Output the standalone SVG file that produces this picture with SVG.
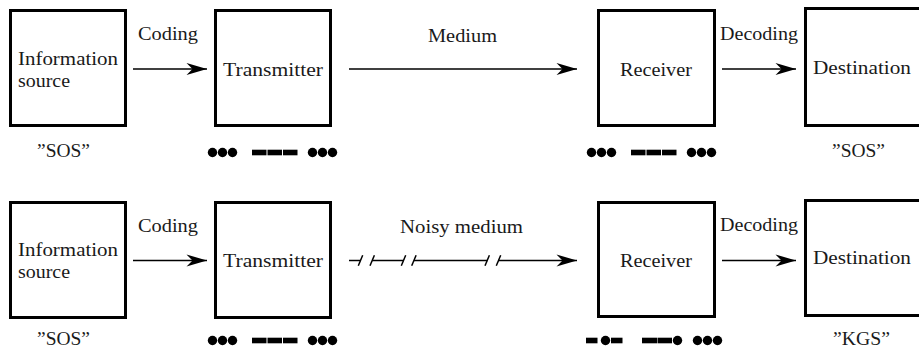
<svg xmlns="http://www.w3.org/2000/svg" width="919" height="353" viewBox="0 0 919 353">
<style>
.box{fill:#fff;stroke:#000;stroke-width:3}
.t{font-family:"Liberation Serif","DejaVu Serif",serif;font-size:19px;fill:#1a1a1a}
.ln{stroke:#000;stroke-width:1.5;fill:none}
.m{fill:#000}
</style>
<defs>
<marker id="ah" markerUnits="userSpaceOnUse" markerWidth="24" markerHeight="16" refX="21" refY="8" orient="auto" viewBox="0 0 24 16">
<path d="M21,8 L0.5,2 L6.5,8 L0.5,14 Z" fill="#000"/>
</marker>
<g id="dots3"><circle cx="0" cy="0" r="4.7"/><circle cx="10" cy="0" r="4.7"/><circle cx="20" cy="0" r="4.7"/></g>
<g id="sos"><use href="#dots3"/><rect x="39.5" y="-2.8" width="14.5" height="5.6"/><rect x="55" y="-2.8" width="14.5" height="5.6"/><rect x="70.5" y="-2.8" width="14.5" height="5.6"/><use href="#dots3" x="100"/></g>
</defs>

<!-- Top row -->
<g id="src1"><rect class="box" x="10.5" y="10.5" width="115" height="115"/>
<text class="t" x="18" y="65" textLength="100" lengthAdjust="spacingAndGlyphs">Information</text>
<text class="t" x="18" y="87" textLength="52" lengthAdjust="spacingAndGlyphs">source</text></g>
<g id="tx1"><rect class="box" x="215.5" y="10.5" width="115" height="115"/>
<text class="t" x="223" y="76" textLength="100" lengthAdjust="spacingAndGlyphs">Transmitter</text></g>
<g id="rx1"><rect class="box" x="598.5" y="10.5" width="116" height="115"/>
<text class="t" x="620" y="76" textLength="72" lengthAdjust="spacingAndGlyphs">Receiver</text></g>
<g id="dst1"><rect class="box" x="805.5" y="8.5" width="130" height="117"/>
<text class="t" x="813" y="74" textLength="98" lengthAdjust="spacingAndGlyphs">Destination</text></g>

<g id="labels1">
<text class="t" x="138" y="39.5" textLength="60" lengthAdjust="spacingAndGlyphs">Coding</text>
<text class="t" x="428" y="41.5" textLength="69" lengthAdjust="spacingAndGlyphs">Medium</text>
<text class="t" x="720" y="40" textLength="78" lengthAdjust="spacingAndGlyphs">Decoding</text>
<text class="t" x="37" y="157" textLength="53" lengthAdjust="spacingAndGlyphs">”SOS”</text>
<text class="t" x="832" y="157" textLength="53" lengthAdjust="spacingAndGlyphs">”SOS”</text>
</g>
<g id="morse1" class="m">
<use href="#sos" x="212.5" y="152.5"/>
<use href="#sos" x="591.5" y="152.5"/>
</g>

<!-- Bottom row -->
<g id="src2"><rect class="box" x="10.5" y="202.5" width="115" height="115"/>
<text class="t" x="18" y="256" textLength="100" lengthAdjust="spacingAndGlyphs">Information</text>
<text class="t" x="18" y="278" textLength="52" lengthAdjust="spacingAndGlyphs">source</text></g>
<g id="tx2"><rect class="box" x="215.5" y="202.5" width="115" height="115"/>
<text class="t" x="223" y="267" textLength="100" lengthAdjust="spacingAndGlyphs">Transmitter</text></g>
<g id="rx2"><rect class="box" x="598.5" y="202.5" width="116" height="114"/>
<text class="t" x="620" y="267" textLength="72" lengthAdjust="spacingAndGlyphs">Receiver</text></g>
<g id="dst2"><rect class="box" x="805.5" y="200.5" width="130" height="115"/>
<text class="t" x="813" y="264" textLength="98" lengthAdjust="spacingAndGlyphs">Destination</text></g>

<g id="labels2">
<text class="t" x="138" y="232" textLength="60" lengthAdjust="spacingAndGlyphs">Coding</text>
<text class="t" x="400" y="233" textLength="123" lengthAdjust="spacingAndGlyphs">Noisy medium</text>
<text class="t" x="720" y="231" textLength="78" lengthAdjust="spacingAndGlyphs">Decoding</text>
<text class="t" x="37" y="345" textLength="53" lengthAdjust="spacingAndGlyphs">”SOS”</text>
<text class="t" x="833" y="345" textLength="57" lengthAdjust="spacingAndGlyphs">”KGS”</text>
</g>
<g id="morse2" class="m">
<use href="#sos" x="212.5" y="340.5"/>
<rect x="586" y="337.7" width="11.5" height="5.6"/><circle cx="605.5" cy="340.5" r="4.7"/><rect x="611" y="337.7" width="11.5" height="5.6"/>
<rect x="642" y="337.7" width="15" height="5.6"/><rect x="657.5" y="337.7" width="14.5" height="5.6"/><circle cx="677.5" cy="340.5" r="4.7"/>
<use href="#dots3" x="697.5" y="340.5"/>
</g>

<!-- Connectors -->
<g id="connectors">
<line class="ln" x1="133" y1="69" x2="207" y2="69" marker-end="url(#ah)"/>
<line class="ln" x1="349" y1="69" x2="577" y2="69" marker-end="url(#ah)"/>
<line class="ln" x1="722" y1="69" x2="796" y2="69" marker-end="url(#ah)"/>
<line class="ln" x1="133" y1="260.5" x2="207" y2="260.5" marker-end="url(#ah)"/>
<line class="ln" x1="722" y1="260.5" x2="796" y2="260.5" marker-end="url(#ah)"/>
<g class="ln">
<line x1="349" y1="260.5" x2="360.5" y2="260.5"/>
<line x1="358.3" y1="265.7" x2="362.7" y2="255.3"/>
<line x1="370" y1="265.7" x2="374.4" y2="255.3"/>
<line x1="372.2" y1="260.5" x2="403.5" y2="260.5"/>
<line x1="401.3" y1="265.7" x2="405.7" y2="255.3"/>
<line x1="411.7" y1="265.7" x2="416.1" y2="255.3"/>
<line x1="413.9" y1="260.5" x2="487.2" y2="260.5"/>
<line x1="485" y1="265.7" x2="489.4" y2="255.3"/>
<line x1="496.3" y1="265.7" x2="500.7" y2="255.3"/>
</g>
<line class="ln" x1="498.5" y1="260.5" x2="577" y2="260.5" marker-end="url(#ah)"/>
</g>
</svg>
